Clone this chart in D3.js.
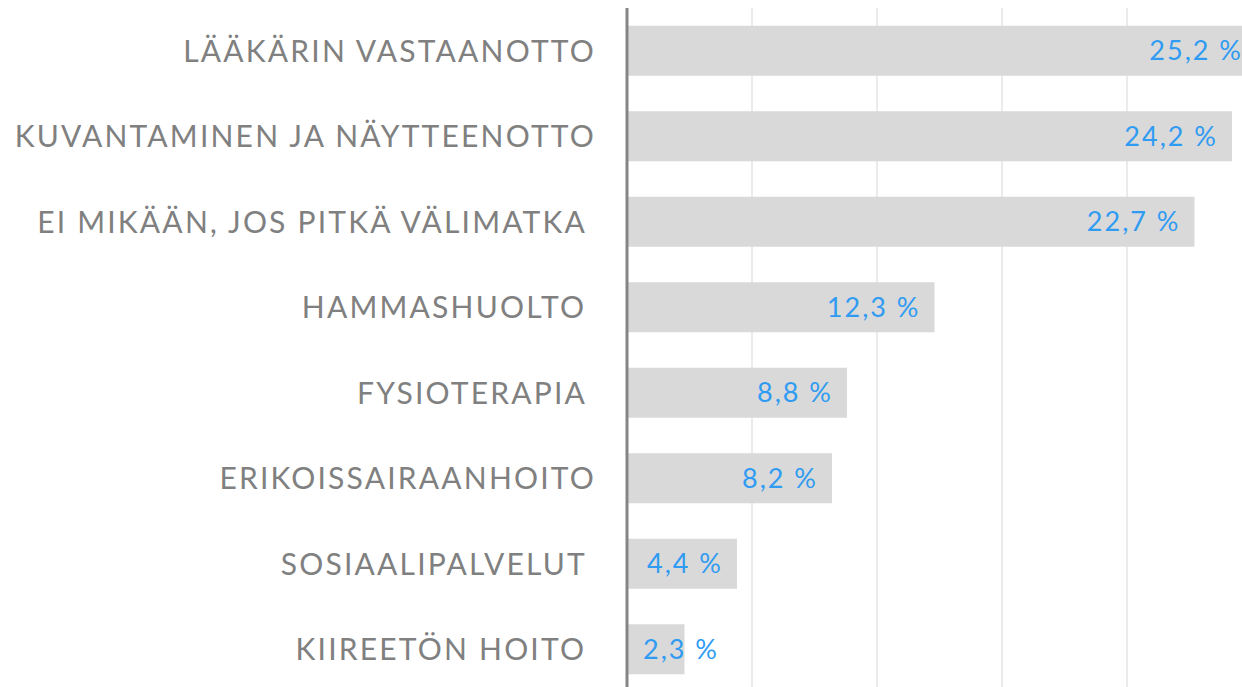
<!DOCTYPE html>
<html><head><meta charset="utf-8">
<script src="https://cdn.jsdelivr.net/npm/d3@7"></script>
<style>body{margin:0;background:#fff;overflow:hidden}</style>
</head><body>
<svg id="c" width="1242" height="687"></svg>
<script>
const categories = ["LÄÄKÄRIN VASTAANOTTO","KUVANTAMINEN JA NÄYTTEENOTTO","EI MIKÄÄN, JOS PITKÄ VÄLIMATKA ","HAMMASHUOLTO ","FYSIOTERAPIA ","ERIKOISSAIRAANHOITO","SOSIAALIPALVELUT ","KIIREETÖN HOITO "];
const values = [25.2, 24.2, 22.7, 12.3, 8.8, 8.2, 4.4, 2.3];
const gridTicks = [5, 10, 15, 20, 25];

const W = 1242, H = 687;
const svg = d3.select("#c");
const x = d3.scaleLinear().domain([0, 25]).range([627, 1252]);
const y = d3.scaleBand().domain(categories).range([8, 692]).paddingInner(0.415).paddingOuter(0.2075);

svg.append("g").selectAll("line").data(gridTicks).join("line")
  .attr("x1", d => x(d)).attr("x2", d => x(d)).attr("y1", 8).attr("y2", H)
  .attr("stroke", "#ebebeb").attr("stroke-width", 2);

svg.append("g").selectAll("rect").data(values).join("rect")
  .attr("x", x(0)).attr("y", (d, i) => y(categories[i]))
  .attr("width", d => x(d) - x(0)).attr("height", y.bandwidth())
  .attr("fill", "#d9d9d9");

svg.append("line").attr("x1", x(0)).attr("x2", x(0)).attr("y1", 8).attr("y2", H)
  .attr("stroke", "#858585").attr("stroke-width", 3);

const font = "Lato, 'Open Sans', sans-serif";
svg.append("g").selectAll("text").data(categories).join("text")
  .attr("x", 596).attr("y", d => y(d) + y.bandwidth() / 2)
  .attr("dy", "0.36em").attr("text-anchor", "end")
  .style("white-space", "pre").style("letter-spacing", "2.2px")
  .attr("font-family", font).attr("font-size", 30)
  .attr("fill", "#808080").text(d => d);

const fmt = v => d3.format(".1f")(v).replace(".", ",") + " %";
const vl = svg.append("g").selectAll("text").data(values).join("text")
  .attr("y", (d, i) => y(categories[i]) + y.bandwidth() / 2)
  .attr("dy", "0.36em").attr("text-anchor", "end")
  .style("letter-spacing", "2px")
  .attr("font-family", font).attr("font-size", 27)
  .attr("fill", "#2f9bf2").text(d => fmt(d));
vl.each(function(d) {
  const w = this.getComputedTextLength();
  d3.select(this).attr("x", Math.max(x(d) - 14, x(0) + 16 + w));
});
</script>
</body></html>
